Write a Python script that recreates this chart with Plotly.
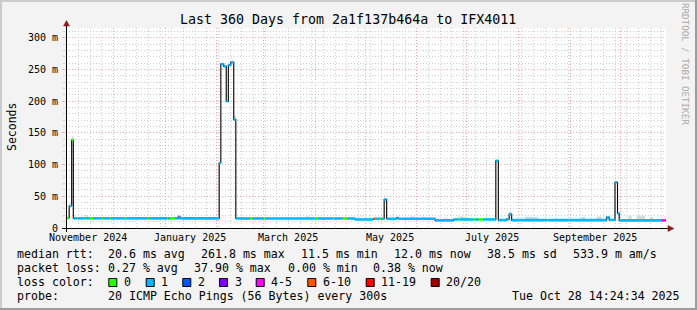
import plotly.graph_objects as go

# ---------------- data ----------------
TITLE = "Last 360 Days from 2a1f137b464a to IFX4011"
START = "2024-11-02 14:24"
END = "2025-10-28 14:24"

step_start = [
    "2024-11-02 14:24", "2024-11-04 12:00", "2024-11-06 00:00", "2024-11-07 00:00",
    "2024-11-09 00:00", "2024-11-10 00:00", "2024-11-14 00:00", "2024-11-15 00:00",
    "2024-11-16 12:00", "2024-11-19 00:00", "2024-11-24 00:00", "2024-11-25 00:00",
    "2024-11-28 12:00", "2024-11-29 12:00", "2024-12-08 00:00", "2024-12-09 00:00",
    "2024-12-21 12:00", "2024-12-22 12:00", "2024-12-31 00:00", "2024-12-31 12:00",
    "2025-01-02 00:00", "2025-01-03 00:00", "2025-01-04 00:00", "2025-01-07 00:00",
    "2025-01-09 00:00", "2025-01-10 00:00", "2025-02-02 12:00", "2025-02-03 12:00",
    "2025-02-05 06:00", "2025-02-06 18:00", "2025-02-08 00:00", "2025-02-09 12:00",
    "2025-02-11 06:00", "2025-02-12 12:00", "2025-02-21 00:00", "2025-02-22 12:00",
    "2025-03-01 00:00", "2025-03-02 00:00", "2025-04-01 00:00", "2025-04-02 12:00",
    "2025-04-11 12:00", "2025-04-12 12:00", "2025-04-17 12:00", "2025-04-20 12:00",
    "2025-04-25 00:00", "2025-05-06 00:00", "2025-05-07 00:00", "2025-05-10 00:00",
    "2025-05-11 00:00", "2025-05-12 12:00", "2025-05-14 00:00", "2025-05-20 00:00",
    "2025-05-21 00:00", "2025-06-12 00:00", "2025-06-23 00:00", "2025-06-26 00:00",
    "2025-06-27 00:00", "2025-07-05 00:00", "2025-07-06 12:00", "2025-07-08 00:00",
    "2025-07-11 00:00", "2025-07-18 12:00", "2025-07-20 00:00", "2025-07-25 00:00",
    "2025-07-26 12:00", "2025-07-28 00:00", "2025-08-18 00:00", "2025-08-19 00:00",
    "2025-09-23 00:00", "2025-09-24 12:00", "2025-09-28 00:00", "2025-09-29 12:00",
    "2025-09-30 12:00", "2025-10-26 00:00",
]
median_ms = [
    15.8, 34.7, 138.8, 15.2,
    15.2, 15.2, 15.2, 15.2,
    15.2, 15.2, 15.2, 15.2,
    15.2, 15.2, 15.2, 15.2,
    15.2, 15.2, 15.2, 15.2,
    15.2, 15.2, 15.2, 15.2,
    17.5, 15.2, 102.5, 258.5,
    255.0, 200.0, 257.0, 261.5,
    171.0, 15.0, 15.0, 15.0,
    15.0, 15.0, 15.0, 15.0,
    15.0, 15.0, 15.0, 15.0,
    13.5, 14.5, 14.5, 14.5,
    14.5, 45.0, 14.5, 16.0,
    14.5, 12.0, 13.5, 13.5,
    13.5, 13.5, 13.5, 13.5,
    13.5, 106.0, 12.5, 14.0,
    22.0, 12.5, 12.5, 12.5,
    16.7, 12.8, 72.0, 23.0,
    12.0, 12.0,
]
loss_count = [
    0, 1, 0, 1,
    0, 1, 0, 1,
    0, 1, 0, 1,
    0, 1, 0, 1,
    0, 1, 0, 1,
    0, 1, 0, 1,
    1, 1, 1, 1,
    1, 1, 1, 1,
    1, 1, 0, 1,
    0, 1, 0, 1,
    0, 1, 0, 1,
    1, 8, 1, 0,
    1, 1, 1, 1,
    1, 1, 1, 0,
    1, 0, 1, 0,
    1, 1, 1, 1,
    1, 1, 0, 1,
    1, 1, 1, 1,
    1, 4,
]

# smoke (grey band of ping spread)
smoke_start = ["2024-11-06 00:00", "2024-11-14 00:00", "2025-01-08 00:00", "2025-02-11 06:00",
               "2025-03-26 00:00", "2025-05-28 00:00", "2025-06-04 00:00", "2025-06-17 00:00",
               "2025-06-26 00:00", "2025-08-05 00:00", "2025-09-08 00:00", "2025-09-17 00:00",
               "2025-10-06 00:00", "2025-10-11 00:00", "2025-10-19 00:00"]
smoke_end = ["2024-11-07 00:00", "2024-11-15 12:00", "2025-01-11 00:00", "2025-02-12 12:00",
             "2025-03-29 00:00", "2025-05-31 00:00", "2025-06-06 00:00", "2025-06-20 00:00",
             "2025-06-30 00:00", "2025-08-13 00:00", "2025-09-10 00:00", "2025-09-20 00:00",
             "2025-10-08 00:00", "2025-10-16 00:00", "2025-10-21 00:00"]
smoke_low = [138.8, 15.2, 15.2, 171.0, 15.0, 14.5, 14.5, 12.0, 13.5, 12.5, 12.5, 12.5, 12.0, 12.0, 12.0]
smoke_high = [145.0, 20.5, 18.5, 177.0, 18.3, 18.3, 17.8, 15.5, 18.3, 17.8, 17.3, 18.3, 19.4, 19.9, 17.3]

y_tick_vals = [0, 50, 100, 150, 200, 250, 300]
y_tick_text = ["0", "50 m", "100 m", "150 m", "200 m", "250 m", "300 m"]
Y_MAX = 315.5

month_starts = ["2024-12-01", "2025-01-01", "2025-02-01", "2025-03-01", "2025-04-01",
                "2025-05-01", "2025-06-01", "2025-07-01", "2025-08-01", "2025-09-01", "2025-10-01"]
month_label_dates = ["2024-11-16", "2025-01-16", "2025-03-16", "2025-05-16", "2025-07-16", "2025-09-16"]
month_labels = ["November 2024", "January 2025", "March 2025", "May 2025", "July 2025", "September 2025"]

loss_labels = ["0", "1", "2", "3", "4-5", "6-10", "11-19", "20/20"]
loss_upper = [0, 1, 2, 3, 5, 10, 19, 20]
loss_colors = ["#26ff00", "#00b8ff", "#0059ff", "#7e00ff", "#ff00ff", "#ff5500", "#ff0000", "#a10000"]

rtt_row = ["median rtt:", "20.6 ms avg", "261.8 ms max", "11.5 ms min", "12.0 ms now", "38.5 ms sd", "533.9 m am/s"]
loss_row = ["packet loss:", "0.27 % avg", "37.90 % max", "0.00 % min", "0.38 % now"]
color_row_title = "loss color:"
probe_row = ["probe:", "20 ICMP Echo Pings (56 Bytes) every 300s"]
timestamp = "Tue Oct 28 14:24:34 2025"

# ---------------- layout geometry (pixels) ----------------
W, H = 697, 310
L, R, T, B = 66, 31, 28, 82
PW, PH = W - L - R, H - T - B
FONT = "DejaVu Sans Mono"


def fx(px):
    return (px - L) / PW


def fy(py):
    return (H - B - py) / PH


def color_for(n):
    for up, c in zip(loss_upper, loss_colors):
        if n <= up:
            return c
    return loss_colors[-1]


fig = go.Figure()

# smoke
sx, sy = [], []
for s, e, lo, hi in zip(smoke_start, smoke_end, smoke_low, smoke_high):
    sx += [s, e, e, s, s, None]
    sy += [lo, lo, hi, hi, lo, None]
fig.add_trace(go.Scatter(x=sx, y=sy, mode="lines", fill="toself", fillcolor="#d9d9d9",
                         line=dict(width=0, color="#d9d9d9"), hoverinfo="skip", showlegend=False))

# black median step line
ends = step_start[1:] + [END]
fig.add_trace(go.Scatter(x=step_start + [END], y=median_ms + [median_ms[-1]], mode="lines",
                         line=dict(color="#000000", width=1.1, shape="hv"),
                         hoverinfo="skip", showlegend=False))

# coloured median segments by loss
groups = {}
for s, e, v, n in zip(step_start, ends, median_ms, loss_count):
    c = color_for(n)
    gx, gy = groups.setdefault(c, ([], []))
    gx += [s, e, None]
    gy += [v, v, None]
for c, (gx, gy) in groups.items():
    fig.add_trace(go.Scatter(x=gx, y=gy, mode="lines", line=dict(color=c, width=2.6),
                             hoverinfo="skip", showlegend=False))

MGRID = "#f0a8a8"
GRID = "#cfcfcf"
fig.update_xaxes(
    type="date", range=[START, END], tickvals=month_starts, showticklabels=False,
    showgrid=True, gridcolor=MGRID, gridwidth=1, griddash="1px,2px",
    ticks="", zeroline=False, showline=False,
    minor=dict(tick0="2024-11-03", dtick=7 * 86400000, showgrid=True, gridcolor=GRID,
               griddash="1px,2px", gridwidth=1),
)
fig.update_yaxes(
    range=[0, Y_MAX], tickvals=y_tick_vals, ticktext=y_tick_text,
    tickfont=dict(family=FONT, size=10, color="#000"),
    showgrid=True, gridcolor=MGRID, gridwidth=1, griddash="1px,2px",
    ticks="outside", ticklen=3, tickcolor=MGRID, ticklabelstandoff=2,
    zeroline=False, showline=False,
    minor=dict(dtick=10, showgrid=True, gridcolor=GRID, griddash="1px,2px", gridwidth=1,
               ticks="outside", ticklen=2, tickcolor=GRID),
)

ann = []
shapes = []
ann.append(dict(text=TITLE, x=fx(348), y=fy(19), xref="paper", yref="paper", showarrow=False,
                xanchor="center", yanchor="middle", font=dict(family=FONT, size=13.3, color="#000")))
ann.append(dict(text="Seconds", x=fx(12), y=fy(127), xref="paper", yref="paper", showarrow=False,
                textangle=-90, xanchor="center", yanchor="middle",
                font=dict(family=FONT, size=11.5, color="#000")))
ann.append(dict(text="RRDTOOL / TOBI OETIKER", x=fx(686), y=fy(64), xref="paper", yref="paper",
                showarrow=False, textangle=90, xanchor="center", yanchor="middle",
                font=dict(family=FONT, size=9.2, color="#ababab")))
for d, lab in zip(month_label_dates, month_labels):
    ann.append(dict(text=lab, x=d, y=fy(237.5), xref="x", yref="paper", showarrow=False,
                    xanchor="center", yanchor="middle", font=dict(family=FONT, size=10, color="#000")))


def leg(text, px, py, anchor="left"):
    ann.append(dict(text=text, x=fx(px - 1.5 if anchor == "left" else px + 1.5), y=fy(py),
                    xref="paper", yref="paper", showarrow=False, xanchor=anchor, yanchor="middle",
                    font=dict(family=FONT, size=11.6, color="#000")))


for t, px in zip(rtt_row, [16, 107.3, 200, 300, 393.3, 486, 572.3]):
    leg(t, px, 254.3)
for t, px in zip(loss_row, [16, 107.3, 193.3, 287.3, 372.3]):
    leg(t, px, 268.3)
leg(color_row_title, 16, 282.3)
box_left = [108.3, 145.7, 182.3, 219, 255.7, 307.3, 365.7, 430.7]
for lab, c, bx in zip(loss_labels, loss_colors, box_left):
    shapes.append(dict(type="rect", xref="paper", yref="paper", x0=fx(bx + 0.5), x1=fx(bx + 8.5),
                       y0=fy(286.5), y1=fy(278.5), fillcolor=c, line=dict(color="#000", width=1)))
    leg(lab, bx + 15, 282.3)
leg(probe_row[0], 16, 296)
leg(probe_row[1], 107.3, 296)
leg(timestamp, 680, 296, anchor="right")

# axes with arrows
AX = "#000000"
ARR = "#8b1c1c"
shapes.append(dict(type="line", xref="paper", yref="paper", x0=fx(62), x1=fx(669), y0=fy(228.5), y1=fy(228.5),
                   line=dict(color=AX, width=1), layer="above"))
shapes.append(dict(type="line", xref="paper", yref="paper", x0=fx(66.5), x1=fx(66.5), y0=fy(232), y1=fy(25),
                   line=dict(color=AX, width=1), layer="above"))
shapes.append(dict(type="path", xref="paper", yref="paper", layer="above",
                   path=f"M {fx(668)} {fy(225.5)} L {fx(674)} {fy(228.5)} L {fx(668)} {fy(231.5)} Z",
                   fillcolor=ARR, line=dict(color=ARR, width=0.5)))
shapes.append(dict(type="path", xref="paper", yref="paper", layer="above",
                   path=f"M {fx(63.5)} {fy(26)} L {fx(66.5)} {fy(20.5)} L {fx(69.5)} {fy(26)} Z",
                   fillcolor=ARR, line=dict(color=ARR, width=0.5)))

# frame (3D border)
shapes += [
    dict(type="line", xref="paper", yref="paper", x0=fx(0), x1=fx(W), y0=fy(1), y1=fy(1),
         line=dict(color="#cccccc", width=2)),
    dict(type="line", xref="paper", yref="paper", x0=fx(1), x1=fx(1), y0=fy(0), y1=fy(H),
         line=dict(color="#cccccc", width=2)),
    dict(type="line", xref="paper", yref="paper", x0=fx(0), x1=fx(W), y0=fy(H - 1), y1=fy(H - 1),
         line=dict(color="#9c9c9c", width=2)),
    dict(type="line", xref="paper", yref="paper", x0=fx(W - 1), x1=fx(W - 1), y0=fy(0), y1=fy(H),
         line=dict(color="#9c9c9c", width=2)),
]

fig.update_layout(
    width=W, height=H, margin=dict(l=L, r=R, t=T, b=B, pad=0),
    paper_bgcolor="#f3f3f3", plot_bgcolor="#ffffff",
    showlegend=False, annotations=ann, shapes=shapes,
    font=dict(family=FONT, color="#000"),
)

fig.write_html("out.html")
